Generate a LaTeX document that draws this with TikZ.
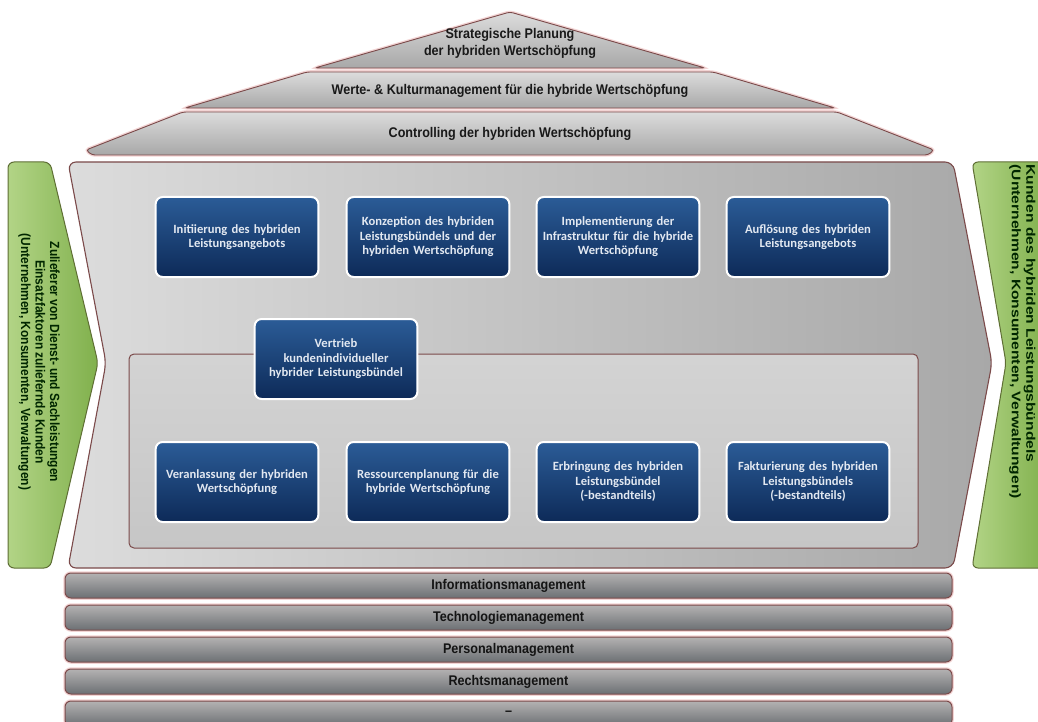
\documentclass[tikz,border=0pt]{standalone}
\usepackage{fontspec}
\setmainfont{Liberation Sans}
\newfontfamily\boxfont{Carlito}
\newfontfamily\narrowfont[FakeStretch=0.9]{Liberation Sans}
\newfontfamily\widefont[FakeStretch=1.25]{Liberation Sans}
\usepackage{tikz}

\definecolor{boxtop}{HTML}{2B5C97}
\definecolor{boxbot}{HTML}{0D2A58}
\definecolor{boxtext}{HTML}{E2E8F1}
\definecolor{greyhi}{HTML}{DCDCDC}
\definecolor{greylo}{HTML}{A8A8A8}
\definecolor{rim}{HTML}{7B4A4A}
\definecolor{glow}{HTML}{F2D4D4}
\definecolor{greenhi}{HTML}{B2D486}
\definecolor{greenlo}{HTML}{80B04C}
\definecolor{greenrim}{HTML}{5E6E34}
\definecolor{bandhi}{HTML}{B4B2B2}
\definecolor{bandlo}{HTML}{6C7074}

\begin{document}
\begin{tikzpicture}[x=1pt, y=-1pt,
  roofband/.style={top color=greyhi, bottom color=greylo, draw=rim, line width=0.9pt,
    rounded corners=3pt, preaction={draw=glow, line width=3.5pt}},
  rooftext/.style={align=center, text=black!90, font=\narrowfont\bfseries\fontsize{14}{17}\selectfont},
  process/.style={rectangle, rounded corners=7pt, draw=white, line width=2pt,
    top color=boxtop, bottom color=boxbot, minimum width=162pt, minimum height=80pt,
    text width=156pt, align=center, text=boxtext,
    font=\boxfont\bfseries\fontsize{12.6}{14.5}\selectfont},
  partner/.style={left color=greenhi, right color=greenlo, draw=greenrim, line width=1pt, rounded corners=6pt},
  partnertext/.style={rotate=-90, text=black!85!green},
  band/.style={rectangle, rounded corners=6pt, minimum width=887pt, minimum height=25pt,
    top color=bandhi, bottom color=bandlo, draw=rim, line width=1pt,
    preaction={draw=glow, line width=3.5pt}, text=black!92,
    font=\narrowfont\bfseries\fontsize{14}{16}\selectfont}]
\useasboundingbox (0,0) rectangle (1038,722);
\clip (0,0) rectangle (1038,722);

% Roof
\path[roofband] (183,112) -- (837,112) -- (934,150) -- (928,155) -- (92,155) -- (86,150) -- cycle;
\path[roofband] (307,72) -- (713,72) -- (835,108) -- (185,108) -- cycle;
\path[roofband] (510,12) -- (705,68) -- (315,68) -- cycle;
\node[rooftext] (plan) at (510,43) {Strategische Planung\\der hybriden Wertschöpfung};
\node[rooftext] (values) at (510,91) {Werte- \& Kulturmanagement für die hybride Wertschöpfung};
\node[rooftext] (control) at (510,134) {Controlling der hybriden Wertschöpfung};

% Suppliers and customers
\path[partner] (8,162) -- (50,162) -- (98,363) -- (50,568) -- (8,568) -- cycle;
\path[partner] (972,162) -- (1048,162) -- (1048,568) -- (972,568) -- (1006,363) -- cycle;
\node[partnertext, align=center, font=\narrowfont\bfseries\fontsize{13.3}{14.5}\selectfont] (supplier) at (39,362)
  {Zulieferer von Dienst- und Sachleistungen\\Einsatzfaktoren zuliefernde Kunden\\(Unternehmen, Konsumenten, Verwaltungen)};
\node[partnertext, align=left, anchor=north west, font=\widefont\bfseries\fontsize{12.5}{14.5}\selectfont] (customer) at (1039,161)
  {Kunden des hybriden Leistungsbündels\\(Unternehmen, Konsumenten, Verwaltungen)};

% Value creation block
\path[left color=greyhi, right color=greylo, draw=rim, line width=1.1pt, rounded corners=8pt]
  (68,162) -- (953,162) -- (992,363) -- (953,568) -- (68,568) -- (106,363) -- cycle;
\path[top color=greyhi!96!black, bottom color=greyhi!90!black, draw=rim, line width=1pt, rounded corners=5pt]
  (129,354) rectangle (918,548);

% First row
\node[process] (p1) at (237,237) {Initiierung des hybriden\\Leistungsangebots};
\node[process] (p2) at (428,237) {Konzeption des hybriden\\Leistungsbündels und der\\hybriden Wertschöpfung};
\node[process] (p3) at (618,237) {Implementierung der\\Infrastruktur für die hybride\\Wertschöpfung};
\node[process] (p4) at (808,237) {Auflösung des hybriden\\Leistungsangebots};

% Sales
\node[process] (sales) at (336,359) {Vertrieb\\kundenindividueller\\hybrider Leistungsbündel};

% Second row
\node[process] (p5) at (237,482) {Veranlassung der hybriden\\Wertschöpfung};
\node[process] (p6) at (428,482) {Ressourcenplanung für die\\hybride Wertschöpfung};
\node[process] (p7) at (618,482) {Erbringung des hybriden\\Leistungsbündel\\(-bestandteils)};
\node[process] (p8) at (808,482) {Fakturierung des hybriden\\Leistungsbündels\\(-bestandteils)};

% Support functions
\node[band] (info) at (508.5,585.5) {Informationsmanagement};
\node[band] (tech) at (508.5,617.5) {Technologiemanagement};
\node[band] (staff) at (508.5,649.5) {Personalmanagement};
\node[band] (law) at (508.5,681.5) {Rechtsmanagement};
\node[band] (more) at (508.5,713.5) {–};
\end{tikzpicture}
\end{document}
